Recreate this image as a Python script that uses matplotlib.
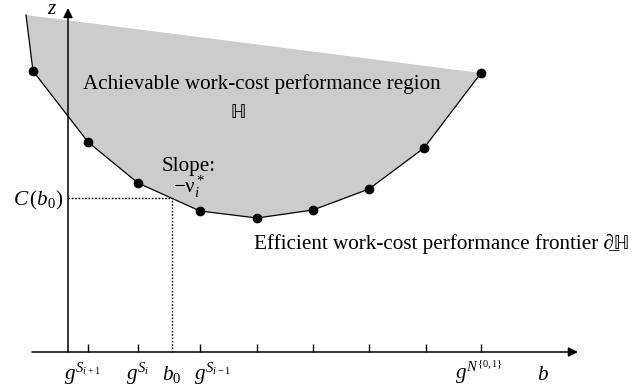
import numpy as np
import matplotlib
matplotlib.use("Agg")
from matplotlib import pyplot as plt

# frontier breakpoints (b, z), origin at axis crossing
b_pts = [-35, 20, 70, 132, 189, 245, 301, 356, 413]
z_pts = [281, 210, 169, 141, 134, 142, 163, 204, 279]
b_start, z_start = -42, 337          # frontier enters from upper left
tick_b = [20, 70, 132, 189, 245, 301, 358, 413]
b0, C0 = 104, 154

tick_labels = [r"$g^{S_{i+1}}$", r"$g^{S_i}$", r"$b_0$", r"$g^{S_{i-1}}$", r"$g^{N^{\{0,1\}}}$"]
tick_label_b = [15, 70, 104, 145, 411]

plt.rcParams['font.family'] = ['Liberation Serif', 'STIXGeneral', 'DejaVu Serif']
plt.rcParams['mathtext.fontset'] = 'custom'
plt.rcParams['mathtext.rm'] = 'Liberation Serif'
plt.rcParams['mathtext.it'] = 'Liberation Serif:italic'
plt.rcParams['mathtext.bf'] = 'Liberation Serif:bold'

fig = plt.figure(figsize=(6.33, 3.91), dpi=100)
ax = fig.add_axes([0, 0, 1, 1])
ax.set_xlim(-68, 565)
ax.set_ylim(-39, 352)
ax.axis('off')

# achievable region
poly_b = [b_start] + b_pts + [b_start]
poly_z = [z_start] + z_pts + [z_start]
ax.fill(poly_b, poly_z, color='#cccccc', lw=0, zorder=1)

# frontier
ax.plot([b_start] + b_pts, [z_start] + z_pts, color='k', lw=0.9, zorder=3)
ax.plot(b_pts, z_pts, 'o', color='k', ms=6, zorder=4)

# axes with arrows
arr = dict(arrowstyle='-|>', color='k', lw=1.1, mutation_scale=14, shrinkA=0, shrinkB=0)
ax.annotate('', xy=(510, 0), xytext=(-36, 0), arrowprops=arr, zorder=5)
ax.annotate('', xy=(0, 344), xytext=(0, 0), arrowprops=arr, zorder=5)
ax.vlines(tick_b, 0, 8, color='k', lw=1.0)

# C(b0) guides
ax.plot([0, b0], [C0, C0], color='k', lw=1.0, ls=(0, (1.2, 1.2)), zorder=2)
ax.plot([b0, b0], [0, C0], color='k', lw=1.0, ls=(0, (1.2, 1.2)), zorder=2)

fs = 15.2
for lab, x in zip(tick_labels, tick_label_b):
    ax.text(x, -28, lab, ha='center', va='baseline', fontsize=fs)
ax.text(475, -28, r"$b$", ha='center', va='baseline', fontsize=fs)
ax.text(-16, 338, r"$z$", ha='center', va='baseline', fontsize=fs)
ax.text(-5, 147, r"$C\,(b_0)$", ha='right', va='baseline', fontsize=fs)

ax.text(15, 263, "Achievable work-cost performance region", ha='left', va='baseline', fontsize=fs)
ax.text(170, 234, "\u210d", ha='center', va='baseline', fontsize=fs, family=['STIXGeneral'])
ax.text(121, 181, "Slope:", ha='center', va='baseline', fontsize=fs)
ax.text(121, 159, r"$-\mathrm{\nu}_i^*$", ha='center', va='baseline', fontsize=fs)
ax.text(186, 103, "Efficient work-cost performance frontier \u2202\u0332\u210d",
        ha='left', va='baseline', fontsize=fs)

fig.savefig("out.png", dpi=100)
